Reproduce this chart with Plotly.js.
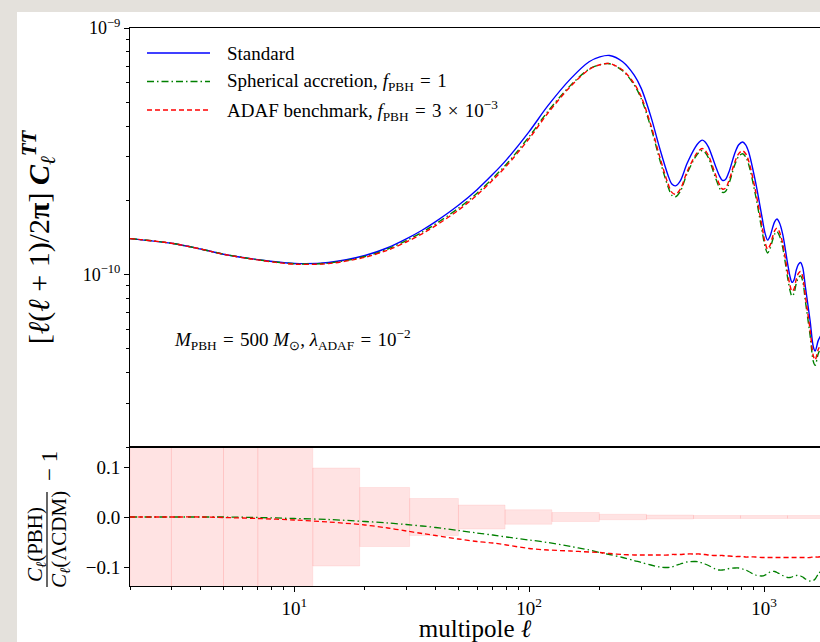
<!DOCTYPE html>
<html>
<head>
<meta charset="utf-8">
<script src="https://cdn.plot.ly/plotly-3.0.1.min.js"></script>
<style>
  html, body { margin: 0; padding: 0; background: #e4e1dc; width: 820px; height: 642px; overflow: hidden; }
  #chart { position: absolute; left: 17px; top: 12px; width: 803px; height: 630px; background: #ffffff; }
</style>
</head>
<body>
<div id="chart"></div>
<script>
// multipoles
const ell = [2, 3, 4, 5, 7, 10, 14, 20, 25, 30,
  35, 40, 50, 60, 70, 80, 100, 120, 150, 180,
  200, 220, 250, 280, 300, 330, 360, 390, 405, 420,
  440, 470, 510, 530, 545, 560, 580, 620, 645, 665,
  685, 710, 750, 780, 810, 835, 860, 920, 980, 1010,
  1035, 1060, 1085, 1110, 1135, 1160, 1200, 1260, 1290, 1315,
  1340, 1370, 1400, 1430, 1460, 1500, 1570, 1620, 1650, 1700,
  1750];
// l(l+1)/2pi C_l^TT in units of 1e-10
const dStandard = [1.40, 1.34, 1.27, 1.21, 1.15, 1.11, 1.12, 1.195, 1.285, 1.395,
  1.513, 1.64, 1.91, 2.21, 2.55, 2.92, 3.80, 4.83, 6.22, 7.30,
  7.64, 7.74, 7.30, 6.44, 5.69, 4.36, 3.24, 2.53, 2.33, 2.29,
  2.40, 2.82, 3.29, 3.45, 3.51, 3.46, 3.29, 2.77, 2.52, 2.41,
  2.43, 2.62, 3.10, 3.36, 3.45, 3.36, 3.14, 2.37, 1.71, 1.47,
  1.38, 1.43, 1.54, 1.64, 1.68, 1.63, 1.46, 1.105, 0.98, 0.93,
  0.95, 1.04, 1.10, 1.12, 1.07, 0.888, 0.65, 0.51, 0.49, 0.54,
  0.57];
const dSpherical = [1.40, 1.34, 1.27, 1.21, 1.149, 1.107, 1.114, 1.184, 1.270, 1.374,
  1.486, 1.606, 1.858, 2.139, 2.458, 2.803, 3.625, 4.584, 5.853, 6.818,
  7.098, 7.160, 6.709, 5.880, 5.172, 3.941, 2.916, 2.274, 2.097, 2.068,
  2.174, 2.566, 2.997, 3.140, 3.187, 3.135, 2.971, 2.482, 2.253, 2.155,
  2.175, 2.350, 2.784, 3.017, 3.091, 3.004, 2.798, 2.095, 1.508, 1.299,
  1.224, 1.273, 1.372, 1.461, 1.494, 1.446, 1.289, 0.971, 0.861, 0.818,
  0.838, 0.918, 0.971, 0.988, 0.942, 0.778, 0.567, 0.445, 0.429, 0.478,
  0.508];
const dAdaf = [1.40, 1.34, 1.27, 1.209, 1.147, 1.103, 1.109, 1.176, 1.257, 1.356,
  1.463, 1.579, 1.826, 2.102, 2.417, 2.756, 3.561, 4.511, 5.797, 6.789,
  7.098, 7.175, 6.753, 5.951, 5.258, 4.029, 2.994, 2.338, 2.155, 2.118,
  2.220, 2.611, 3.047, 3.195, 3.247, 3.201, 3.040, 2.557, 2.326, 2.224,
  2.240, 2.416, 2.855, 3.095, 3.177, 3.091, 2.889, 2.180, 1.571, 1.351,
  1.268, 1.314, 1.415, 1.507, 1.544, 1.498, 1.342, 1.016, 0.901, 0.855,
  0.873, 0.956, 1.011, 1.029, 0.983, 0.816, 0.597, 0.469, 0.451, 0.497,
  0.525];
// C_l(PBH)/C_l(LCDM) - 1
const rSpherical = [0, 0, 0, 0, -0.001, -0.003, -0.005, -0.009, -0.012, -0.015,
  -0.018, -0.021, -0.027, -0.032, -0.036, -0.040, -0.046, -0.051, -0.059, -0.066,
  -0.071, -0.075, -0.081, -0.087, -0.091, -0.096, -0.100, -0.101, -0.100, -0.097,
  -0.094, -0.090, -0.089, -0.090, -0.092, -0.094, -0.097, -0.104, -0.106, -0.106,
  -0.105, -0.103, -0.102, -0.102, -0.104, -0.106, -0.109, -0.116, -0.118, -0.116,
  -0.113, -0.110, -0.109, -0.109, -0.111, -0.113, -0.117, -0.121, -0.121, -0.120,
  -0.118, -0.117, -0.117, -0.118, -0.120, -0.124, -0.128, -0.127, -0.124, -0.114,
  -0.108];
const rAdaf = [0, 0, 0, -0.001, -0.003, -0.006, -0.010, -0.016, -0.022, -0.028,
  -0.033, -0.037, -0.044, -0.049, -0.052, -0.056, -0.063, -0.066, -0.068, -0.070,
  -0.071, -0.073, -0.075, -0.076, -0.076, -0.076, -0.076, -0.076, -0.075, -0.075,
  -0.075, -0.074, -0.074, -0.074, -0.075, -0.075, -0.076, -0.077, -0.077, -0.077,
  -0.078, -0.078, -0.079, -0.079, -0.079, -0.080, -0.080, -0.080, -0.081, -0.081,
  -0.081, -0.081, -0.081, -0.081, -0.081, -0.081, -0.081, -0.081, -0.081, -0.081,
  -0.081, -0.081, -0.081, -0.081, -0.081, -0.081, -0.081, -0.080, -0.080, -0.080,
  -0.079];
// binned relative error band
const binEdges = [2, 3, 5, 7, 12, 19, 31, 50, 79, 125, 199, 316, 501, 794, 1258, 1995];
const binErr = [0.6, 0.45, 0.35, 0.25, 0.098, 0.059, 0.037, 0.024, 0.0145, 0.009, 0.0055, 0.004, 0.003, 0.003, 0.003];
const SP = '\u2004';
const seriesNames = ['Standard',
  'Spherical accretion, <i>f</i><sub>PBH</sub>' + SP + '=' + SP + '1',
  'ADAF benchmark, <i>f</i><sub>PBH</sub>' + SP + '=' + SP + '3' + SP + '×' + SP + '10<sup>−3</sup>'];
const xTickVals = [10, 100, 1000];
const xTickText = ['10<sup>1</sup>', '10<sup>2</sup>', '10<sup>3</sup>'];
const yTopTickVals = [1e-10, 1e-9];
const yTopTickText = ['10<sup>−10</sup>', '10<sup>−9</sup>'];
const yBotTickVals = [-0.1, 0, 0.1];
const yBotTickText = ['−0.1', '0.0', '0.1'];
const unit = 1e-10;

const xMinor = [];
[1, 10, 100, 1000].forEach(d => { for (let k = 2; k <= 9; k++) xMinor.push(k * d); });
const yMinor = [];
[1e-11, 1e-10].forEach(d => { for (let k = 2; k <= 9; k++) yMinor.push(k * d); });

const BLUE = '#0000ff', GREEN = '#008000', RED = '#ff0000';
const DASHDOT = '7px,3px,1.5px,3px', DASH = '5px,3px';
const traces = [];

// error band boxes (bottom panel)
for (let i = 0; i < binErr.length; i++) {
  const lo = binEdges[i], hi = binEdges[i + 1], e = binErr[i];
  traces.push({
    x: [lo, hi, hi, lo, lo], y: [-e, -e, e, e, -e],
    xaxis: 'x', yaxis: 'y', mode: 'lines', fill: 'toself',
    fillcolor: 'rgba(255,0,0,0.11)', line: {color: 'rgba(255,0,0,0.07)', width: 1},
    hoverinfo: 'skip', showlegend: false
  });
}
// ratio curves
traces.push({x: ell, y: rSpherical, xaxis: 'x', yaxis: 'y', mode: 'lines', name: seriesNames[1], showlegend: false,
  line: {color: GREEN, width: 1.3, dash: DASHDOT, shape: 'spline', smoothing: 0.9}});
traces.push({x: ell, y: rAdaf, xaxis: 'x', yaxis: 'y', mode: 'lines', name: seriesNames[2], showlegend: false,
  line: {color: RED, width: 1.3, dash: DASH, shape: 'spline', smoothing: 0.9}});
// spectra
traces.push({x: ell, y: dStandard.map(v => v * unit), xaxis: 'x2', yaxis: 'y2', mode: 'lines', name: seriesNames[0], showlegend: false,
  line: {color: BLUE, width: 1.4, shape: 'spline', smoothing: 0.9}});
traces.push({x: ell, y: dSpherical.map(v => v * unit), xaxis: 'x2', yaxis: 'y2', mode: 'lines', name: seriesNames[1], showlegend: false,
  line: {color: GREEN, width: 1.4, dash: DASHDOT, shape: 'spline', smoothing: 0.9}});
traces.push({x: ell, y: dAdaf.map(v => v * unit), xaxis: 'x2', yaxis: 'y2', mode: 'lines', name: seriesNames[2], showlegend: false,
  line: {color: RED, width: 1.4, dash: DASH, shape: 'spline', smoothing: 0.9}});

// pixel -> paper helpers (plot area: x 130..820, y 28..586 in page px)
const px = p => (p - 130) / 690;
const py = p => (586 - p) / 558;

const FONT = 'Liberation Serif, Times New Roman, serif';
const legendRows = [
  {y: 53, color: BLUE, dash: 'solid'},
  {y: 81.5, color: GREEN, dash: DASHDOT},
  {y: 110, color: RED, dash: DASH}
];
const shapes = legendRows.map(r => ({
  type: 'line', xref: 'paper', yref: 'paper', x0: px(147), x1: px(210), y0: py(r.y), y1: py(r.y),
  line: {color: r.color, width: 1.4, dash: r.dash}
}));
// fraction bar of the lower y label
shapes.push({type: 'line', xref: 'paper', yref: 'paper', x0: px(47), x1: px(47), y0: py(587), y1: py(492),
  line: {color: '#000', width: 1.2}});

const annotations = legendRows.map((r, i) => ({
  xref: 'paper', yref: 'paper', x: px(225), y: py(r.y), xanchor: 'left', yanchor: 'middle',
  text: seriesNames[i], showarrow: false, font: {size: 19, family: FONT, color: '#000'}
}));
annotations.push({
  xref: 'paper', yref: 'paper', x: px(172), y: py(340), xanchor: 'left', yanchor: 'middle', showarrow: false,
  text: '<i>M</i><sub>PBH</sub>' + SP + '=' + SP + '500 <i>M</i><sub>⊙</sub>, <i>λ</i><sub>ADAF</sub>' + SP + '=' + SP + '10<sup>−2</sup>',
  font: {size: 19, family: FONT, color: '#000'}
});
annotations.push({
  xref: 'paper', yref: 'paper', x: px(36), y: py(545), xanchor: 'center', yanchor: 'middle', showarrow: false,
  textangle: -90, text: '<i>C</i><sub><i>ℓ</i></sub>(PBH)', font: {size: 21, family: FONT, color: '#000'}
});
annotations.push({
  xref: 'paper', yref: 'paper', x: px(60), y: py(540), xanchor: 'center', yanchor: 'middle', showarrow: false,
  textangle: -90, text: '<i>C</i><sub><i>ℓ</i></sub>(ΛCDM)', font: {size: 21, family: FONT, color: '#000'}
});
annotations.push({
  xref: 'paper', yref: 'paper', x: px(49), y: py(466), xanchor: 'center', yanchor: 'middle', showarrow: false,
  textangle: -90, text: '− 1', font: {size: 23, family: FONT, color: '#000'}
});

const xr = [Math.log10(2), Math.log10(1730)];
const split = 139 / 558;
const layout = {
  width: 803, height: 630,
  margin: {l: 113, r: 0, t: 16, b: 56, pad: 0},
  paper_bgcolor: '#ffffff', plot_bgcolor: '#ffffff',
  font: {family: FONT, size: 19, color: '#000'},
  showlegend: false,
  xaxis: {
    domain: [0, 1], anchor: 'y', type: 'log', range: xr, autorange: false,
    showline: true, linecolor: '#000', linewidth: 1, mirror: true,
    showgrid: false, zeroline: false,
    ticks: 'outside', ticklen: 5, tickwidth: 1, tickcolor: '#000',
    tickmode: 'array', tickvals: xTickVals, ticktext: xTickText,
    tickfont: {size: 19, family: FONT},
    minor: {tickmode: 'array', tickvals: xMinor, ticks: 'outside', ticklen: 3, tickwidth: 1, tickcolor: '#000', showgrid: false},
    title: {text: 'multipole <i>ℓ</i>', font: {size: 25, family: FONT}, standoff: 6}
  },
  yaxis: {
    domain: [0, split], anchor: 'x', range: [-0.138, 0.14], autorange: false,
    showline: true, linecolor: '#000', linewidth: 1, mirror: false,
    showgrid: false, zeroline: false,
    ticks: 'outside', ticklen: 5, tickwidth: 1, tickcolor: '#000',
    tickmode: 'array', tickvals: yBotTickVals, ticktext: yBotTickText,
    tickfont: {size: 19, family: FONT}
  },
  xaxis2: {
    domain: [0, 1], anchor: 'y2', type: 'log', range: xr, autorange: false, matches: 'x',
    showline: true, linecolor: '#000', linewidth: 1, mirror: true,
    showgrid: false, zeroline: false, showticklabels: false, ticks: ''
  },
  yaxis2: {
    domain: [split, 1], anchor: 'x2', type: 'log', range: [Math.log10(2e-11), -9], autorange: false,
    showline: true, linecolor: '#000', linewidth: 1, mirror: false,
    showgrid: false, zeroline: false,
    ticks: 'outside', ticklen: 5, tickwidth: 1, tickcolor: '#000',
    tickmode: 'array', tickvals: yTopTickVals, ticktext: yTopTickText,
    tickfont: {size: 18, family: FONT},
    minor: {tickmode: 'array', tickvals: yMinor, ticks: 'outside', ticklen: 3, tickwidth: 1, tickcolor: '#000', showgrid: false},
    title: {text: '[<i>ℓ</i>(<i>ℓ</i> + 1)/2<b>π</b>] <b><i>C</i></b><sub><i>ℓ</i></sub><sup><b><i>TT</i></b></sup>', font: {size: 30, family: FONT}, standoff: 30}
  },
  shapes: shapes,
  annotations: annotations
};

Plotly.newPlot('chart', traces, layout, {displayModeBar: false, staticPlot: true});
</script>
</body>
</html>
